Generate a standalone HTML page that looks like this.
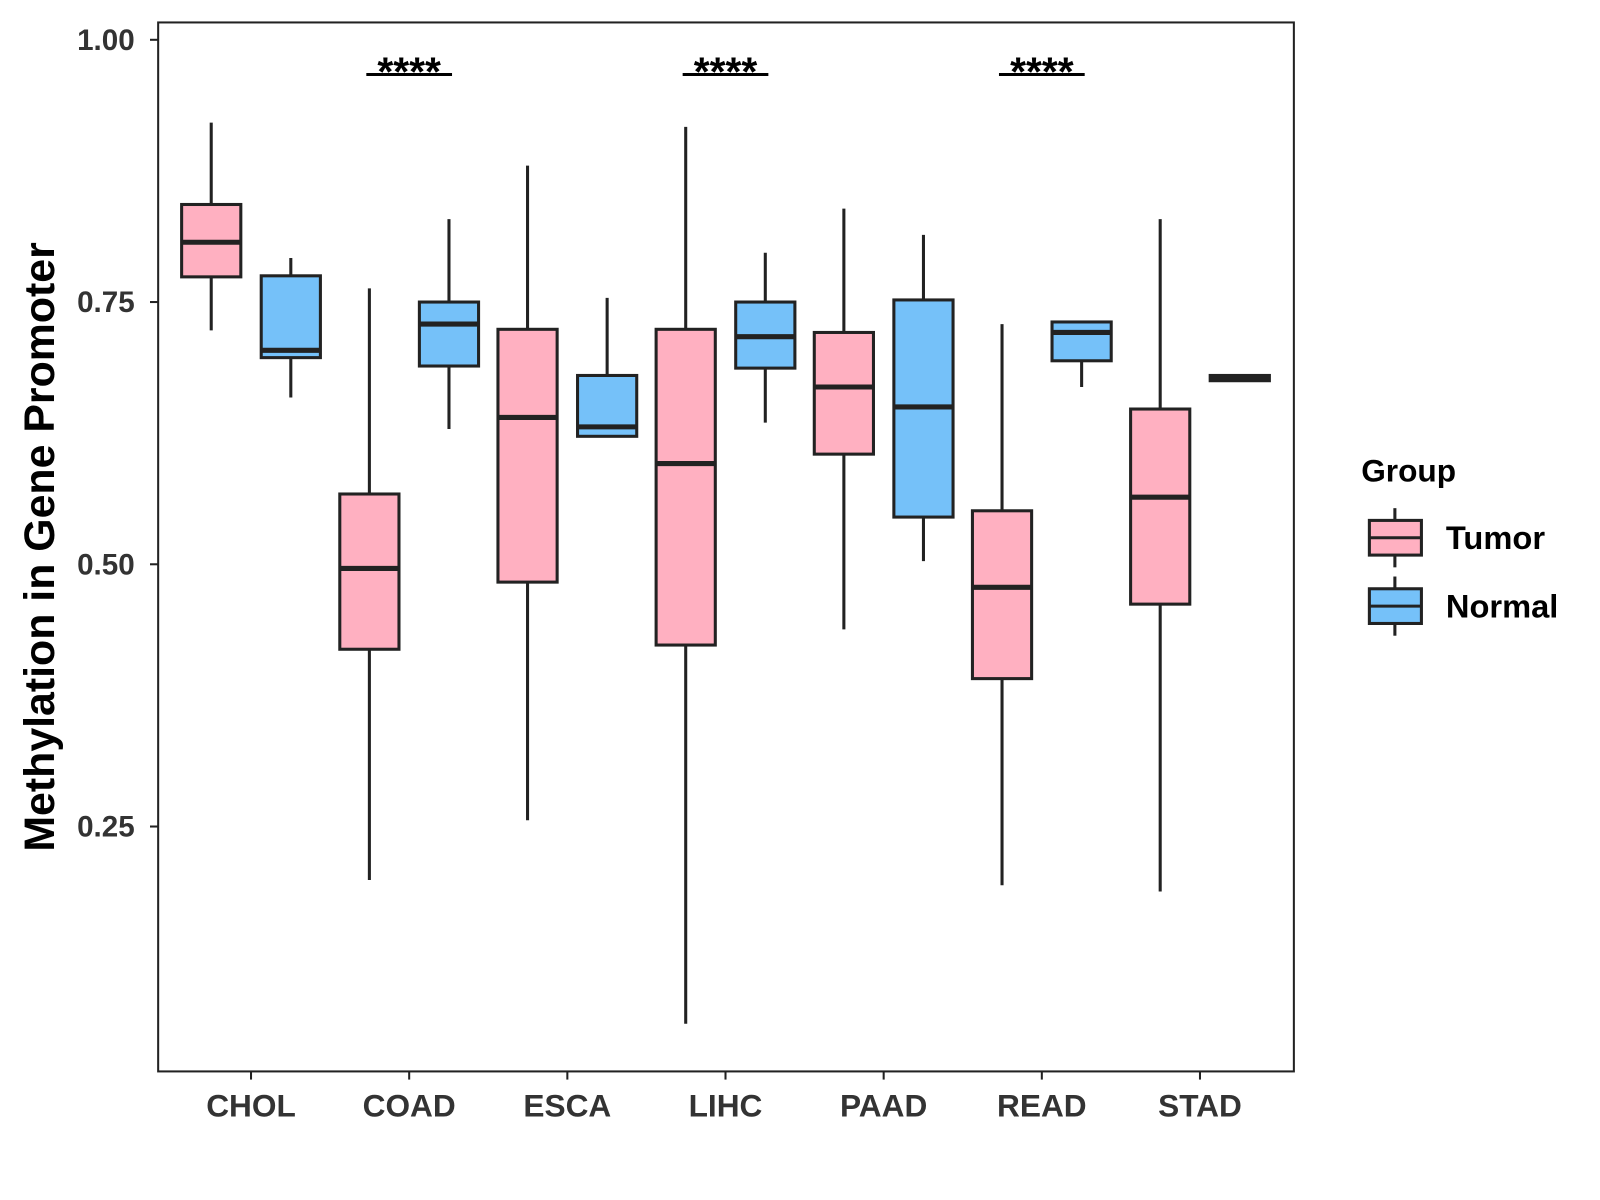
<!DOCTYPE html>
<html><head><meta charset="utf-8"><style>
body{margin:0;background:#fff;}
svg{display:block;font-family:"Liberation Sans",Arial,sans-serif;}
</style></head><body>
<svg id="chart" width="1600" height="1200" viewBox="0 0 1600 1200">
<rect x="0" y="0" width="1600" height="1200" fill="#fff"/>
<g id="root" transform="scale(1.0204)">
<g id="marks"></g>
<rect x="155" y="22" width="1113" height="1028" fill="none" stroke="#222" stroke-width="2"/>
<text transform="translate(53,536) rotate(-90)" text-anchor="middle" font-size="42" font-weight="bold" fill="#000">Methylation in Gene Promoter</text>
<text x="1334" y="472" font-size="31" font-weight="bold" fill="#000">Group</text>
<g>
<line x1="1367" y1="498" x2="1367" y2="556" stroke="#222" stroke-width="3"/>
<rect x="1342" y="510" width="51" height="34" fill="#FFB0C1" stroke="#222" stroke-width="3"/>
<line x1="1342" y1="527" x2="1393" y2="527" stroke="#222" stroke-width="3"/>
<text x="1417" y="538" font-size="32" font-weight="bold" fill="#000">Tumor</text>
</g>
<g>
<line x1="1367" y1="565" x2="1367" y2="623" stroke="#222" stroke-width="3"/>
<rect x="1342" y="577" width="51" height="34" fill="#75C1F9" stroke="#222" stroke-width="3"/>
<line x1="1342" y1="594" x2="1393" y2="594" stroke="#222" stroke-width="3"/>
<text x="1417" y="605" font-size="32" font-weight="bold" fill="#000">Normal</text>
</g>
</g>
</svg>
<script>
const categories=["CHOL","COAD","ESCA","LIHC","PAAD","READ","STAD"];
// [lowerWhisker, Q1, median, Q3, upperWhisker]
const tumorStats=[[0.723,0.774,0.807,0.843,0.921],[0.199,0.419,0.496,0.567,0.763],[0.256,0.483,0.640,0.724,0.880],[0.062,0.423,0.596,0.724,0.917],[0.438,0.605,0.669,0.721,0.839],[0.194,0.391,0.478,0.551,0.729],[0.188,0.462,0.564,0.648,0.829]];
const normalStats=[[0.659,0.697,0.704,0.775,0.792],[0.629,0.689,0.729,0.750,0.829],[0.622,0.622,0.631,0.680,0.754],[0.635,0.687,0.717,0.750,0.797],[0.503,0.545,0.650,0.752,0.814],[0.669,0.694,0.721,0.731,0.731],[0.675,0.675,0.678,0.680,0.680]];
const yTicks=[0.25,0.5,0.75,1.0];
const yTickLabels=["0.25","0.50","0.75","1.00"];
const sigCategories=["COAD","LIHC","READ"];
const sigLabels=["****","****","****"];

const NS="http://www.w3.org/2000/svg";
const g=document.getElementById('marks');
function yS(v){return 39+(1-v)*1028;}
function xS(i){return 246+i*155;}
function mk(tag,attrs,parent){const e=document.createElementNS(NS,tag);for(const k in attrs)e.setAttribute(k,attrs[k]);(parent||g).appendChild(e);return e;}

yTicks.forEach((t,i)=>{
  const tk=mk('line',{x1:147,x2:155,y1:yS(t),y2:yS(t),stroke:'#222','stroke-width':2});
  
  
  const tx=mk('text',{x:132,y:yS(t)+10,'text-anchor':'end','font-size':29,'font-weight':'bold',fill:'#333'});
  tx.textContent=yTickLabels[i];
  
  
});
categories.forEach((c,i)=>{
  const tk=mk('line',{x1:xS(i),x2:xS(i),y1:1050,y2:1058,stroke:'#222','stroke-width':2});
  
  
  const tx=mk('text',{x:xS(i),y:1094,'text-anchor':'middle','font-size':31,'font-weight':'bold',fill:'#333'});
  tx.textContent=c;
  
  
});
function box(i,s,off,fill,name){
  const cx=xS(i)+off,w=58;
  const grp=mk('g',{});
  
  
  mk('line',{x1:cx,x2:cx,y1:yS(s[4]),y2:yS(s[0]),stroke:'#222','stroke-width':3},grp);
  mk('rect',{x:cx-w/2,y:yS(s[3]),width:w,height:Math.max(yS(s[1])-yS(s[3]),1),fill:fill,stroke:'#222','stroke-width':3},grp);
  mk('line',{x1:cx-w/2,x2:cx+w/2,y1:yS(s[2]),y2:yS(s[2]),stroke:'#222','stroke-width':5},grp);
}
categories.forEach((c,i)=>{
  box(i,tumorStats[i],-39,'#FFB0C1','box-tumor-'+c.toLowerCase());
  box(i,normalStats[i],39,'#75C1F9','box-normal-'+c.toLowerCase());
});
sigCategories.forEach((c,k)=>{
  const i=categories.indexOf(c);
  const ln=mk('line',{x1:xS(i)-42,x2:xS(i)+42,y1:73,y2:73,stroke:'#000','stroke-width':3});
  
  
  const tx=mk('text',{x:xS(i),y:84,'text-anchor':'middle','font-size':40,'font-weight':'bold',fill:'#000'});
  tx.textContent=sigLabels[k];
  
  
});
</script>
</body></html>
